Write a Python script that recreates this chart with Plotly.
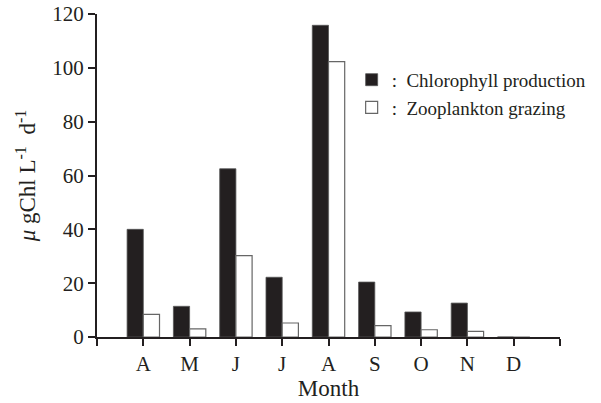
import plotly.graph_objects as go

months = ["A", "M", "J", "J", "A", "S", "O", "N", "D"]
chl_production = [40.0, 11.4, 62.5, 22.2, 115.8, 20.4, 9.3, 12.6, 0.0]
zoo_grazing = [8.4, 3.0, 30.2, 5.2, 102.3, 4.2, 2.7, 2.1, 0.0]
y_ticks = [0, 20, 40, 60, 80, 100, 120]

xpos = list(range(1, len(months) + 1))
FONT = "Liberation Serif, serif"
INK = "#231f20"

fig = go.Figure()
fig.add_trace(go.Bar(
    x=xpos, y=chl_production, name=":  Chlorophyll production",
    marker=dict(color=INK, line=dict(color="#555555", width=0.8)),
))
fig.add_trace(go.Bar(
    x=xpos, y=zoo_grazing, name=":  Zooplankton grazing",
    marker=dict(color="white", line=dict(color="#666666", width=1.2)),
))

fig.update_layout(
    width=601, height=403,
    margin=dict(l=97, r=41, t=14, b=66, autoexpand=False),
    paper_bgcolor="white", plot_bgcolor="white",
    barmode="group", bargap=0.3, bargroupgap=0,
    font=dict(family=FONT, size=21, color=INK),
    showlegend=True,
    legend=dict(x=0.55, y=0.855, xanchor="left", yanchor="top",
                bgcolor="rgba(0,0,0,0)", font=dict(size=19),
                tracegroupgap=0, itemwidth=30),
    xaxis=dict(
        range=[0, 10], automargin=False,
        tickmode="array",
        tickvals=xpos,
        ticktext=months,
        showline=True, linecolor=INK, linewidth=2,
        ticks="outside", ticklen=7, tickwidth=2, tickcolor=INK,
        minor=dict(ticks="outside", ticklen=7, tickwidth=2, tickcolor=INK,
                   tick0=0, dtick=1, showgrid=False),
        showgrid=False, zeroline=False,
        title=dict(text="Month", font=dict(size=23), standoff=4),
    ),
    yaxis=dict(
        range=[0, 120], automargin=False,
        tickmode="array", tickvals=y_ticks,
        showline=True, linecolor=INK, linewidth=2,
        ticks="outside", ticklen=7, tickwidth=2, tickcolor=INK,
        showgrid=False, zeroline=False,
        title=dict(text="<i>μ</i>\u00a0gChl\u00a0L<sup>-1</sup>\u00a0\u00a0d<sup>-1</sup>",
                   font=dict(size=23), standoff=10),
    ),
)

fig.write_html("out.html")
